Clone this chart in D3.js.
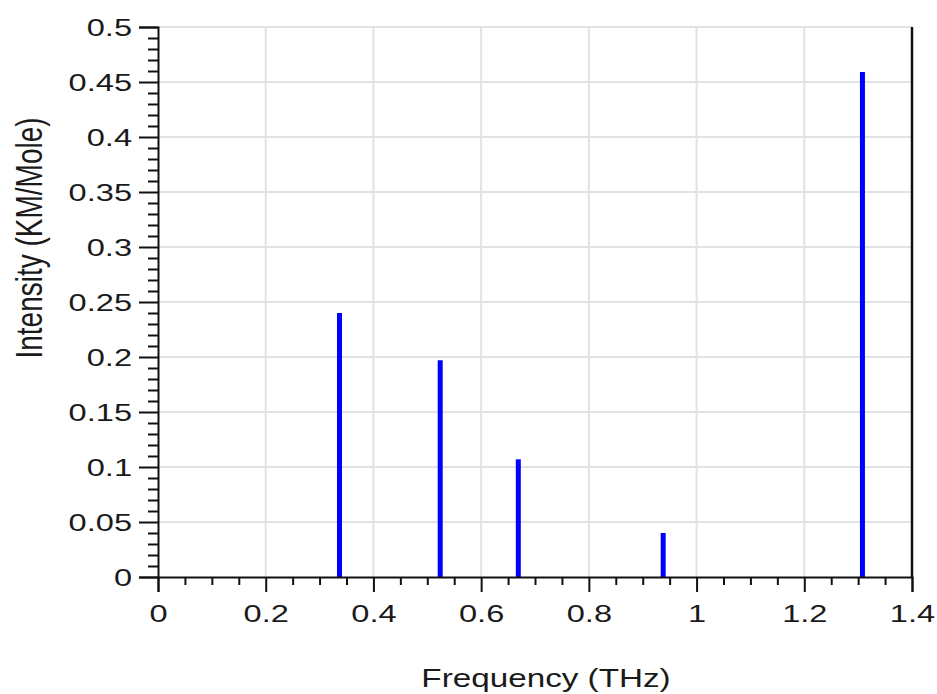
<!DOCTYPE html>
<html>
<head>
<meta charset="utf-8">
<script src="https://cdn.jsdelivr.net/npm/d3@7/dist/d3.min.js"></script>
<style>
  html, body { margin: 0; padding: 0; background: #fff; }
  svg { display: block; }
  text { font-family: "Liberation Sans", Arial, sans-serif; fill: #1a1a1a; }
</style>
</head>
<body>
<svg id="chart" width="937" height="694"></svg>
<script>
// Vibrational modes: frequency (THz) and IR intensity (KM/Mole)
const frequencies = [0.337, 0.524, 0.669, 0.938, 1.308];
const intensities = [0.240, 0.197, 0.107, 0.040, 0.459];

// Axis ticks and their labels
const xTicks = [0, 0.2, 0.4, 0.6, 0.8, 1.0, 1.2, 1.4];
const xTickLabels = ["0", "0.2", "0.4", "0.6", "0.8", "1", "1.2", "1.4"];
const yTicks = [0, 0.05, 0.1, 0.15, 0.2, 0.25, 0.3, 0.35, 0.4, 0.45, 0.5];
const yTickLabels = ["0", "0.05", "0.1", "0.15", "0.2", "0.25", "0.3", "0.35", "0.4", "0.45", "0.5"];

const xTitle = "Frequency (THz)";
const yTitle = "Intensity (KM/Mole)";

const svg = d3.select("#chart");
const plotLeft = 158, plotRight = 912, plotTop = 27, plotBottom = 577;
const stretch = 1.33; // glyphs are drawn wide

const x = d3.scaleLinear().domain([0, 1.4]).range([plotLeft, plotRight]);
const y = d3.scaleLinear().domain([0, 0.5]).range([plotBottom, plotTop]);

// minor tick positions
const xMinor = d3.range(0, 29).map(i => +(i * 0.05).toFixed(2)).filter(v => !xTicks.some(t => Math.abs(t - v) < 1e-9));
const yMinor = d3.range(0, 51).map(i => +(i * 0.01).toFixed(2)).filter(v => !yTicks.some(t => Math.abs(t - v) < 1e-9));

// grid
const grid = svg.append("g").attr("stroke", "#e2e2e2").attr("stroke-width", 2);
grid.selectAll("line.v").data(xTicks.slice(1, -1)).join("line")
  .attr("class", "v")
  .attr("x1", d => x(d)).attr("x2", d => x(d))
  .attr("y1", plotTop).attr("y2", plotBottom);
grid.selectAll("line.h").data(yTicks.slice(1)).join("line")
  .attr("class", "h")
  .attr("x1", plotLeft).attr("x2", plotRight)
  .attr("y1", d => y(d)).attr("y2", d => y(d));

// stick spectrum
svg.append("g").selectAll("line").data(frequencies).join("line")
  .attr("x1", d => x(d)).attr("x2", d => x(d))
  .attr("y1", y(0)).attr("y2", (d, i) => y(intensities[i]))
  .attr("stroke", "#0000ff").attr("stroke-width", 5);

// x axis
const xMinorAxis = svg.append("g").attr("transform", `translate(0,${plotBottom})`)
  .call(d3.axisBottom(x).tickValues(xMinor).tickSize(8).tickFormat(""));
const xAxis = svg.append("g").attr("transform", `translate(0,${plotBottom})`)
  .call(d3.axisBottom(x).tickValues(xTicks).tickSize(15)
    .tickFormat((d, i) => xTickLabels[i]));

// y axis
const yMinorAxis = svg.append("g").attr("transform", `translate(${plotLeft},0)`)
  .call(d3.axisLeft(y).tickValues(yMinor).tickSize(10).tickFormat(""));
const yAxis = svg.append("g").attr("transform", `translate(${plotLeft},0)`)
  .call(d3.axisLeft(y).tickValues(yTicks).tickSize(19)
    .tickFormat((d, i) => yTickLabels[i]));

[xMinorAxis, xAxis, yMinorAxis, yAxis].forEach(g => {
  g.select(".domain").attr("stroke", "#111").attr("stroke-width", 2);
  g.selectAll(".tick line").attr("stroke", "#111").attr("stroke-width", 2);
});
xMinorAxis.select(".domain").remove();
yMinorAxis.select(".domain").remove();

xAxis.selectAll(".tick text")
  .attr("x", null).attr("y", null).attr("dy", null)
  .attr("transform", `translate(0,45) scale(${stretch},1)`)
  .attr("font-size", 24.5).attr("fill", "#1a1a1a");
yAxis.selectAll(".tick text")
  .attr("x", null).attr("dy", "0.35em")
  .attr("transform", `translate(-26,0) scale(${stretch},1)`)
  .attr("font-size", 24.5).attr("fill", "#1a1a1a");

// right frame line
svg.append("line")
  .attr("x1", plotRight).attr("x2", plotRight).attr("y1", plotTop).attr("y2", plotBottom)
  .attr("stroke", "#111").attr("stroke-width", 2.5);

// axis titles
svg.append("text")
  .attr("transform", `translate(546,687) scale(${stretch},1)`)
  .attr("text-anchor", "middle").attr("font-size", 25)
  .text(xTitle);
svg.append("text")
  .attr("transform", `translate(42,238) scale(${stretch},1) rotate(-90)`)
  .attr("text-anchor", "middle").attr("font-size", 28)
  .text(yTitle);
</script>
</body>
</html>
